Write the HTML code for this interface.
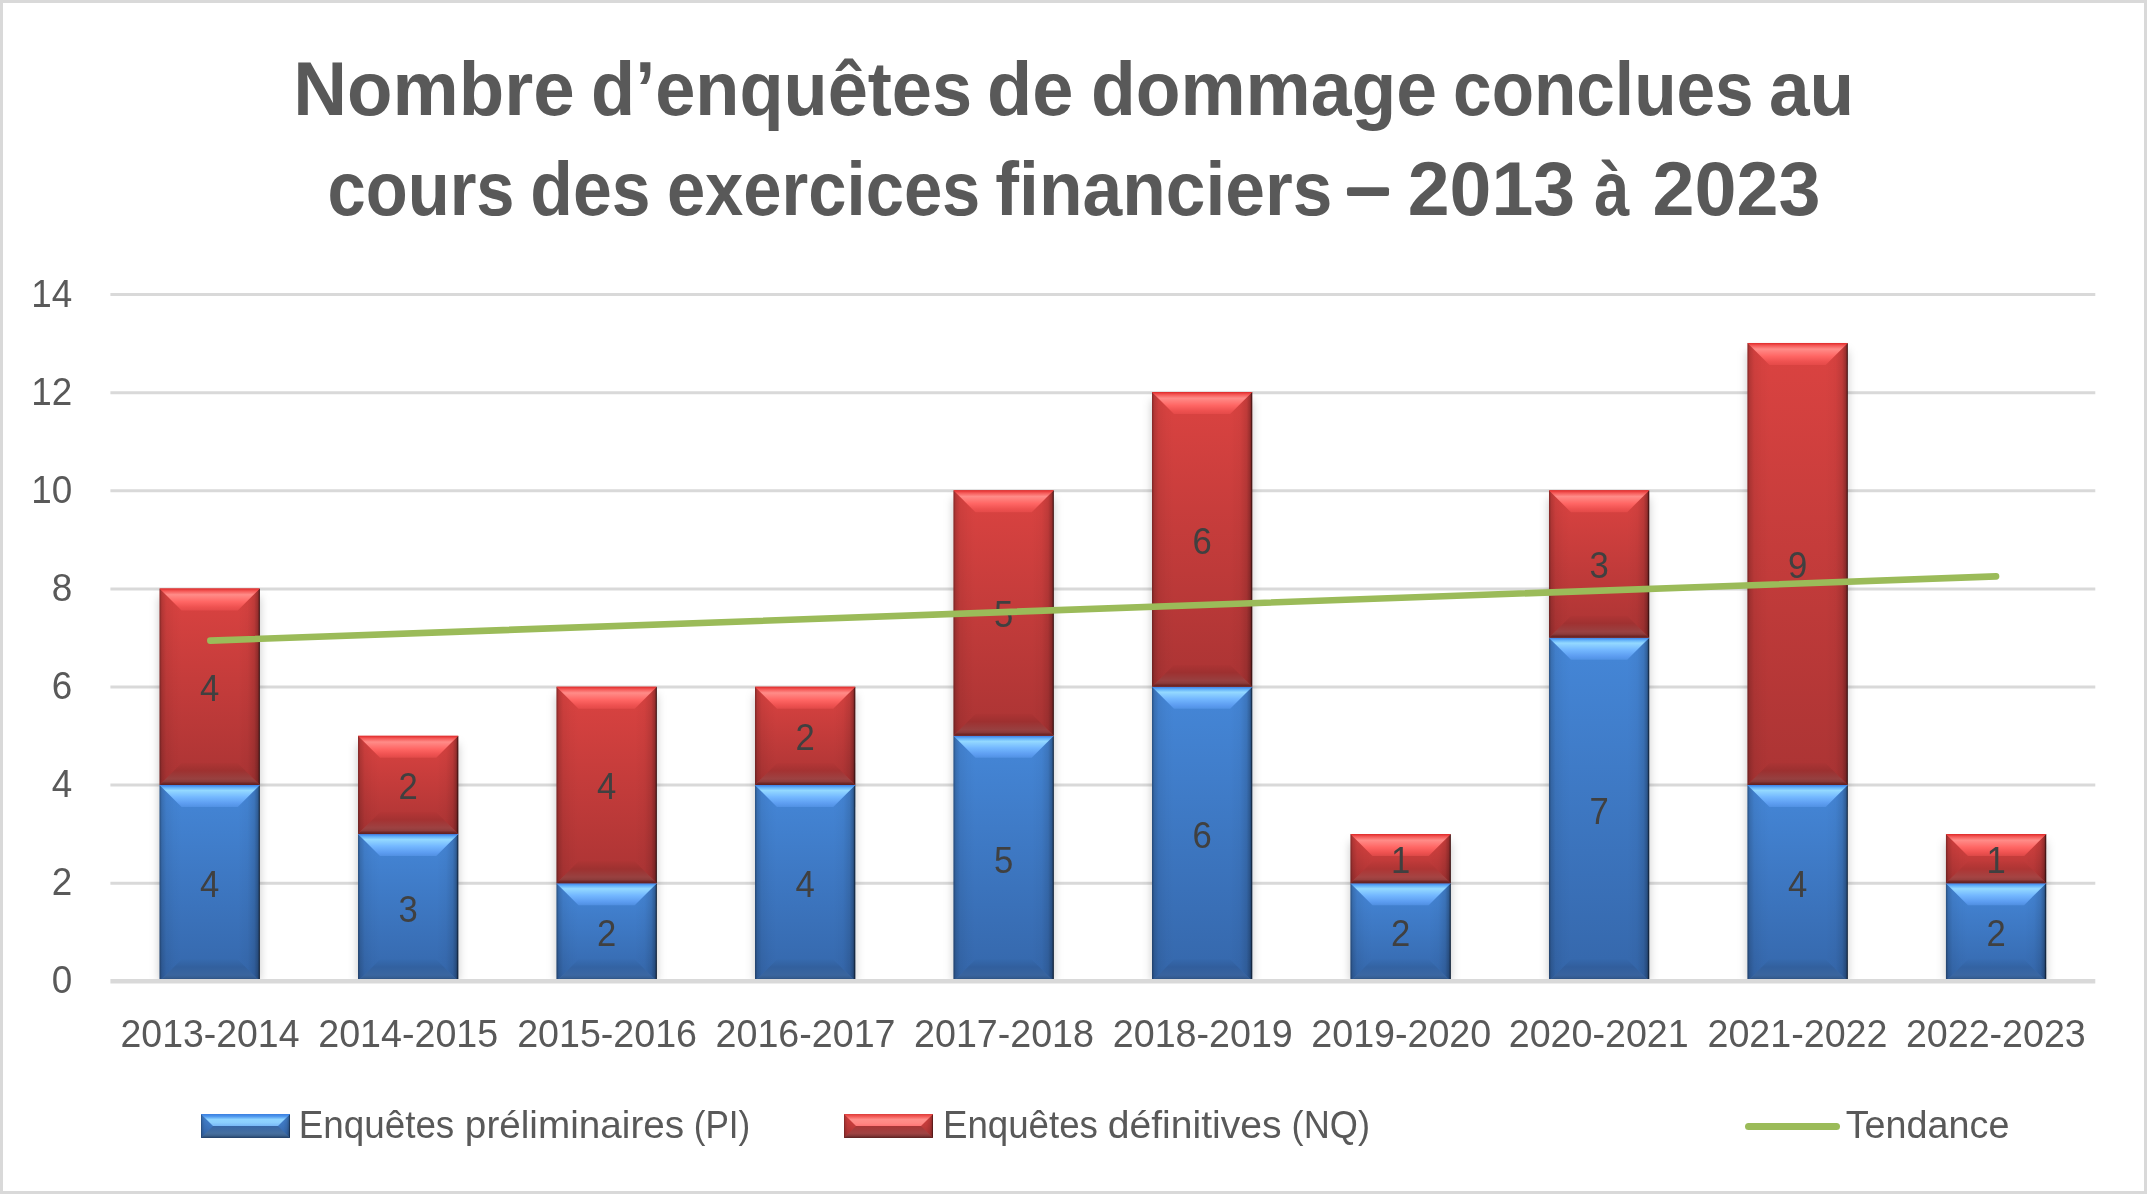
<!DOCTYPE html>
<html><head><meta charset="utf-8"><title>Chart</title>
<style>html,body{margin:0;padding:0;background:#fff;overflow:hidden;width:2147px;height:1194px;} svg{display:block;} text{opacity:0.999;}</style>
</head><body>
<svg width="2147" height="1194" viewBox="0 0 2147 1194">
<defs>
<linearGradient id="bFace" x1="0" y1="0" x2="0" y2="1">
 <stop offset="0" stop-color="#4587d8"/><stop offset="1" stop-color="#3567ab"/>
</linearGradient>
<linearGradient id="rFace" x1="0" y1="0" x2="0" y2="1">
 <stop offset="0" stop-color="#db4341"/><stop offset="1" stop-color="#ab3434"/>
</linearGradient>
<linearGradient id="bTop" x1="0" y1="0" x2="0" y2="1">
 <stop offset="0" stop-color="#3b7ee6"/><stop offset="0.12" stop-color="#64b2fa"/>
 <stop offset="0.25" stop-color="#94d9ff"/><stop offset="0.55" stop-color="#74b8ff"/>
 <stop offset="0.85" stop-color="#5c9cf0"/><stop offset="1" stop-color="#4a8ade"/>
</linearGradient>
<linearGradient id="rTop" x1="0" y1="0" x2="0" y2="1">
 <stop offset="0" stop-color="#df2a2a"/><stop offset="0.12" stop-color="#f55a58"/>
 <stop offset="0.28" stop-color="#ff8c88"/><stop offset="0.6" stop-color="#ff6664"/>
 <stop offset="0.85" stop-color="#ee5150"/><stop offset="1" stop-color="#de4645"/>
</linearGradient>
<linearGradient id="bBot" x1="0" y1="0" x2="0" y2="1">
 <stop offset="0" stop-color="#3567ab"/><stop offset="0.35" stop-color="#2f5e98"/>
 <stop offset="0.75" stop-color="#3f6898"/><stop offset="0.9" stop-color="#3a6090"/><stop offset="1" stop-color="#22426a"/>
</linearGradient>
<linearGradient id="rBot" x1="0" y1="0" x2="0" y2="1">
 <stop offset="0" stop-color="#ab3434"/><stop offset="0.35" stop-color="#962e2e"/>
 <stop offset="0.75" stop-color="#9a4343"/><stop offset="0.9" stop-color="#8a3838"/><stop offset="1" stop-color="#5e2020"/>
</linearGradient>
<linearGradient id="sideL" x1="0" y1="0" x2="1" y2="0">
 <stop offset="0" stop-color="#000" stop-opacity="0.40"/><stop offset="0.1" stop-color="#000" stop-opacity="0.17"/>
 <stop offset="0.3" stop-color="#000" stop-opacity="0.06"/><stop offset="0.65" stop-color="#000" stop-opacity="0.02"/><stop offset="1" stop-color="#000" stop-opacity="0"/>
</linearGradient>
<linearGradient id="sideR" x1="0" y1="0" x2="1" y2="0">
 <stop offset="0" stop-color="#000" stop-opacity="0"/><stop offset="0.45" stop-color="#000" stop-opacity="0.03"/>
 <stop offset="0.75" stop-color="#000" stop-opacity="0.12"/><stop offset="0.9" stop-color="#000" stop-opacity="0.28"/><stop offset="0.95" stop-color="#000" stop-opacity="0.45"/><stop offset="1" stop-color="#000" stop-opacity="0.92"/>
</linearGradient>
<clipPath id="plotclip"><rect x="0" y="0" width="2147" height="979"/></clipPath>
<linearGradient id="lbTop" x1="0" y1="0" x2="0" y2="1">
 <stop offset="0" stop-color="#3a7ede"/><stop offset="0.2" stop-color="#4f98ee"/><stop offset="0.45" stop-color="#8fd4ff"/>
 <stop offset="0.7" stop-color="#8ccffe"/><stop offset="1" stop-color="#78b8f6"/>
</linearGradient>
<linearGradient id="lbBot" x1="0" y1="0" x2="0" y2="1">
 <stop offset="0" stop-color="#3766a6"/><stop offset="0.6" stop-color="#466f9f"/><stop offset="0.78" stop-color="#3e6490"/><stop offset="1" stop-color="#223f66"/>
</linearGradient>
<linearGradient id="lrTop" x1="0" y1="0" x2="0" y2="1">
 <stop offset="0" stop-color="#dc3c3a"/><stop offset="0.2" stop-color="#f35a57"/><stop offset="0.45" stop-color="#ff8e8a"/>
 <stop offset="0.75" stop-color="#ff8884"/><stop offset="1" stop-color="#ff7676"/>
</linearGradient>
<linearGradient id="lrBot" x1="0" y1="0" x2="0" y2="1">
 <stop offset="0" stop-color="#a83636"/><stop offset="0.6" stop-color="#a04343"/><stop offset="0.78" stop-color="#8a3a3a"/><stop offset="1" stop-color="#5a2121"/>
</linearGradient>
<filter id="shd" x="-30%" y="-10%" width="160%" height="120%">
 <feGaussianBlur stdDeviation="5"/>
</filter>
<linearGradient id="t1" x1="0" y1="0" x2="0" y2="1"><stop offset="0" stop-color="#3b7ee6"/><stop offset="0.12" stop-color="#64b2fa"/><stop offset="0.25" stop-color="#94d9ff"/><stop offset="0.55" stop-color="#74b8ff"/><stop offset="0.85" stop-color="#5c9cf0"/><stop offset="1" stop-color="#5191e3"/></linearGradient><linearGradient id="u1" x1="0" y1="0" x2="0" y2="1"><stop offset="0" stop-color="#366aae"/><stop offset="0.35" stop-color="#32609e"/><stop offset="0.72" stop-color="#3a659e"/><stop offset="0.84" stop-color="#355d91"/><stop offset="0.92" stop-color="#2c4e7c"/><stop offset="1" stop-color="#22426a"/></linearGradient><linearGradient id="t2" x1="0" y1="0" x2="0" y2="1"><stop offset="0" stop-color="#df2a2a"/><stop offset="0.12" stop-color="#f55a58"/><stop offset="0.28" stop-color="#ff8c88"/><stop offset="0.6" stop-color="#ff6664"/><stop offset="0.85" stop-color="#ee5150"/><stop offset="1" stop-color="#e34a49"/></linearGradient><linearGradient id="u2" x1="0" y1="0" x2="0" y2="1"><stop offset="0" stop-color="#ae3534"/><stop offset="0.35" stop-color="#9e3130"/><stop offset="0.72" stop-color="#984140"/><stop offset="0.84" stop-color="#8c3c3b"/><stop offset="0.92" stop-color="#742828"/><stop offset="1" stop-color="#5e2020"/></linearGradient><linearGradient id="t3" x1="0" y1="0" x2="0" y2="1"><stop offset="0" stop-color="#3b7ee6"/><stop offset="0.12" stop-color="#64b2fa"/><stop offset="0.25" stop-color="#94d9ff"/><stop offset="0.55" stop-color="#74b8ff"/><stop offset="0.85" stop-color="#5c9cf0"/><stop offset="1" stop-color="#5190e2"/></linearGradient><linearGradient id="u3" x1="0" y1="0" x2="0" y2="1"><stop offset="0" stop-color="#366bb0"/><stop offset="0.35" stop-color="#3261a0"/><stop offset="0.72" stop-color="#3a66a0"/><stop offset="0.84" stop-color="#355e93"/><stop offset="0.92" stop-color="#2c4e7c"/><stop offset="1" stop-color="#22426a"/></linearGradient><linearGradient id="t4" x1="0" y1="0" x2="0" y2="1"><stop offset="0" stop-color="#df2a2a"/><stop offset="0.12" stop-color="#f55a58"/><stop offset="0.28" stop-color="#ff8c88"/><stop offset="0.6" stop-color="#ff6664"/><stop offset="0.85" stop-color="#ee5150"/><stop offset="1" stop-color="#e04948"/></linearGradient><linearGradient id="u4" x1="0" y1="0" x2="0" y2="1"><stop offset="0" stop-color="#b43636"/><stop offset="0.35" stop-color="#a43232"/><stop offset="0.72" stop-color="#9d4242"/><stop offset="0.84" stop-color="#903d3d"/><stop offset="0.92" stop-color="#742828"/><stop offset="1" stop-color="#5e2020"/></linearGradient><linearGradient id="t5" x1="0" y1="0" x2="0" y2="1"><stop offset="0" stop-color="#3b7ee6"/><stop offset="0.12" stop-color="#64b2fa"/><stop offset="0.25" stop-color="#94d9ff"/><stop offset="0.55" stop-color="#74b8ff"/><stop offset="0.85" stop-color="#5c9cf0"/><stop offset="1" stop-color="#508fe1"/></linearGradient><linearGradient id="u5" x1="0" y1="0" x2="0" y2="1"><stop offset="0" stop-color="#386db3"/><stop offset="0.35" stop-color="#3363a3"/><stop offset="0.72" stop-color="#3b67a2"/><stop offset="0.84" stop-color="#365f95"/><stop offset="0.92" stop-color="#2c4e7c"/><stop offset="1" stop-color="#22426a"/></linearGradient><linearGradient id="t6" x1="0" y1="0" x2="0" y2="1"><stop offset="0" stop-color="#df2a2a"/><stop offset="0.12" stop-color="#f55a58"/><stop offset="0.28" stop-color="#ff8c88"/><stop offset="0.6" stop-color="#ff6664"/><stop offset="0.85" stop-color="#ee5150"/><stop offset="1" stop-color="#e34a49"/></linearGradient><linearGradient id="u6" x1="0" y1="0" x2="0" y2="1"><stop offset="0" stop-color="#ae3534"/><stop offset="0.35" stop-color="#9e3130"/><stop offset="0.72" stop-color="#984140"/><stop offset="0.84" stop-color="#8c3c3b"/><stop offset="0.92" stop-color="#742828"/><stop offset="1" stop-color="#5e2020"/></linearGradient><linearGradient id="t7" x1="0" y1="0" x2="0" y2="1"><stop offset="0" stop-color="#3b7ee6"/><stop offset="0.12" stop-color="#64b2fa"/><stop offset="0.25" stop-color="#94d9ff"/><stop offset="0.55" stop-color="#74b8ff"/><stop offset="0.85" stop-color="#5c9cf0"/><stop offset="1" stop-color="#5191e3"/></linearGradient><linearGradient id="u7" x1="0" y1="0" x2="0" y2="1"><stop offset="0" stop-color="#366aae"/><stop offset="0.35" stop-color="#32609e"/><stop offset="0.72" stop-color="#3a659e"/><stop offset="0.84" stop-color="#355d91"/><stop offset="0.92" stop-color="#2c4e7c"/><stop offset="1" stop-color="#22426a"/></linearGradient><linearGradient id="t8" x1="0" y1="0" x2="0" y2="1"><stop offset="0" stop-color="#df2a2a"/><stop offset="0.12" stop-color="#f55a58"/><stop offset="0.28" stop-color="#ff8c88"/><stop offset="0.6" stop-color="#ff6664"/><stop offset="0.85" stop-color="#ee5150"/><stop offset="1" stop-color="#e04948"/></linearGradient><linearGradient id="u8" x1="0" y1="0" x2="0" y2="1"><stop offset="0" stop-color="#b43636"/><stop offset="0.35" stop-color="#a43232"/><stop offset="0.72" stop-color="#9d4242"/><stop offset="0.84" stop-color="#903d3d"/><stop offset="0.92" stop-color="#742828"/><stop offset="1" stop-color="#5e2020"/></linearGradient><linearGradient id="t9" x1="0" y1="0" x2="0" y2="1"><stop offset="0" stop-color="#3b7ee6"/><stop offset="0.12" stop-color="#64b2fa"/><stop offset="0.25" stop-color="#94d9ff"/><stop offset="0.55" stop-color="#74b8ff"/><stop offset="0.85" stop-color="#5c9cf0"/><stop offset="1" stop-color="#5191e3"/></linearGradient><linearGradient id="u9" x1="0" y1="0" x2="0" y2="1"><stop offset="0" stop-color="#3569ad"/><stop offset="0.35" stop-color="#315f9e"/><stop offset="0.72" stop-color="#39649e"/><stop offset="0.84" stop-color="#345c91"/><stop offset="0.92" stop-color="#2c4e7c"/><stop offset="1" stop-color="#22426a"/></linearGradient><linearGradient id="t10" x1="0" y1="0" x2="0" y2="1"><stop offset="0" stop-color="#df2a2a"/><stop offset="0.12" stop-color="#f55a58"/><stop offset="0.28" stop-color="#ff8c88"/><stop offset="0.6" stop-color="#ff6664"/><stop offset="0.85" stop-color="#ee5150"/><stop offset="1" stop-color="#e44a49"/></linearGradient><linearGradient id="u10" x1="0" y1="0" x2="0" y2="1"><stop offset="0" stop-color="#ad3434"/><stop offset="0.35" stop-color="#9e3030"/><stop offset="0.72" stop-color="#984040"/><stop offset="0.84" stop-color="#8c3b3b"/><stop offset="0.92" stop-color="#742828"/><stop offset="1" stop-color="#5e2020"/></linearGradient><linearGradient id="t11" x1="0" y1="0" x2="0" y2="1"><stop offset="0" stop-color="#3b7ee6"/><stop offset="0.12" stop-color="#64b2fa"/><stop offset="0.25" stop-color="#94d9ff"/><stop offset="0.55" stop-color="#74b8ff"/><stop offset="0.85" stop-color="#5c9cf0"/><stop offset="1" stop-color="#5192e4"/></linearGradient><linearGradient id="u11" x1="0" y1="0" x2="0" y2="1"><stop offset="0" stop-color="#3568ac"/><stop offset="0.35" stop-color="#315e9d"/><stop offset="0.72" stop-color="#39639e"/><stop offset="0.84" stop-color="#345b91"/><stop offset="0.92" stop-color="#2c4e7c"/><stop offset="1" stop-color="#22426a"/></linearGradient><linearGradient id="t12" x1="0" y1="0" x2="0" y2="1"><stop offset="0" stop-color="#df2a2a"/><stop offset="0.12" stop-color="#f55a58"/><stop offset="0.28" stop-color="#ff8c88"/><stop offset="0.6" stop-color="#ff6664"/><stop offset="0.85" stop-color="#ee5150"/><stop offset="1" stop-color="#e44a49"/></linearGradient><linearGradient id="u12" x1="0" y1="0" x2="0" y2="1"><stop offset="0" stop-color="#ad3434"/><stop offset="0.35" stop-color="#9e3030"/><stop offset="0.72" stop-color="#984040"/><stop offset="0.84" stop-color="#8c3b3b"/><stop offset="0.92" stop-color="#742828"/><stop offset="1" stop-color="#5e2020"/></linearGradient><linearGradient id="t13" x1="0" y1="0" x2="0" y2="1"><stop offset="0" stop-color="#3b7ee6"/><stop offset="0.12" stop-color="#64b2fa"/><stop offset="0.25" stop-color="#94d9ff"/><stop offset="0.55" stop-color="#74b8ff"/><stop offset="0.85" stop-color="#5c9cf0"/><stop offset="1" stop-color="#508fe1"/></linearGradient><linearGradient id="u13" x1="0" y1="0" x2="0" y2="1"><stop offset="0" stop-color="#386db3"/><stop offset="0.35" stop-color="#3363a3"/><stop offset="0.72" stop-color="#3b67a2"/><stop offset="0.84" stop-color="#365f95"/><stop offset="0.92" stop-color="#2c4e7c"/><stop offset="1" stop-color="#22426a"/></linearGradient><linearGradient id="t14" x1="0" y1="0" x2="0" y2="1"><stop offset="0" stop-color="#df2a2a"/><stop offset="0.12" stop-color="#f55a58"/><stop offset="0.28" stop-color="#ff8c88"/><stop offset="0.6" stop-color="#ff6664"/><stop offset="0.85" stop-color="#ee5150"/><stop offset="1" stop-color="#dc4847"/></linearGradient><linearGradient id="u14" x1="0" y1="0" x2="0" y2="1"><stop offset="0" stop-color="#bf3a39"/><stop offset="0.35" stop-color="#ae3534"/><stop offset="0.72" stop-color="#a54443"/><stop offset="0.84" stop-color="#983f3e"/><stop offset="0.92" stop-color="#742828"/><stop offset="1" stop-color="#5e2020"/></linearGradient><linearGradient id="t15" x1="0" y1="0" x2="0" y2="1"><stop offset="0" stop-color="#3b7ee6"/><stop offset="0.12" stop-color="#64b2fa"/><stop offset="0.25" stop-color="#94d9ff"/><stop offset="0.55" stop-color="#74b8ff"/><stop offset="0.85" stop-color="#5c9cf0"/><stop offset="1" stop-color="#5192e4"/></linearGradient><linearGradient id="u15" x1="0" y1="0" x2="0" y2="1"><stop offset="0" stop-color="#3568ac"/><stop offset="0.35" stop-color="#315e9d"/><stop offset="0.72" stop-color="#39639e"/><stop offset="0.84" stop-color="#345b91"/><stop offset="0.92" stop-color="#2c4e7c"/><stop offset="1" stop-color="#22426a"/></linearGradient><linearGradient id="t16" x1="0" y1="0" x2="0" y2="1"><stop offset="0" stop-color="#df2a2a"/><stop offset="0.12" stop-color="#f55a58"/><stop offset="0.28" stop-color="#ff8c88"/><stop offset="0.6" stop-color="#ff6664"/><stop offset="0.85" stop-color="#ee5150"/><stop offset="1" stop-color="#e24a48"/></linearGradient><linearGradient id="u16" x1="0" y1="0" x2="0" y2="1"><stop offset="0" stop-color="#b03535"/><stop offset="0.35" stop-color="#a03131"/><stop offset="0.72" stop-color="#9a4141"/><stop offset="0.84" stop-color="#8e3c3c"/><stop offset="0.92" stop-color="#742828"/><stop offset="1" stop-color="#5e2020"/></linearGradient><linearGradient id="t17" x1="0" y1="0" x2="0" y2="1"><stop offset="0" stop-color="#3b7ee6"/><stop offset="0.12" stop-color="#64b2fa"/><stop offset="0.25" stop-color="#94d9ff"/><stop offset="0.55" stop-color="#74b8ff"/><stop offset="0.85" stop-color="#5c9cf0"/><stop offset="1" stop-color="#5191e3"/></linearGradient><linearGradient id="u17" x1="0" y1="0" x2="0" y2="1"><stop offset="0" stop-color="#366aae"/><stop offset="0.35" stop-color="#32609e"/><stop offset="0.72" stop-color="#3a659e"/><stop offset="0.84" stop-color="#355d91"/><stop offset="0.92" stop-color="#2c4e7c"/><stop offset="1" stop-color="#22426a"/></linearGradient><linearGradient id="t18" x1="0" y1="0" x2="0" y2="1"><stop offset="0" stop-color="#df2a2a"/><stop offset="0.12" stop-color="#f55a58"/><stop offset="0.28" stop-color="#ff8c88"/><stop offset="0.6" stop-color="#ff6664"/><stop offset="0.85" stop-color="#ee5150"/><stop offset="1" stop-color="#e54a49"/></linearGradient><linearGradient id="u18" x1="0" y1="0" x2="0" y2="1"><stop offset="0" stop-color="#ab3434"/><stop offset="0.35" stop-color="#9c3030"/><stop offset="0.72" stop-color="#964040"/><stop offset="0.84" stop-color="#8a3b3b"/><stop offset="0.92" stop-color="#742828"/><stop offset="1" stop-color="#5e2020"/></linearGradient><linearGradient id="t19" x1="0" y1="0" x2="0" y2="1"><stop offset="0" stop-color="#3b7ee6"/><stop offset="0.12" stop-color="#64b2fa"/><stop offset="0.25" stop-color="#94d9ff"/><stop offset="0.55" stop-color="#74b8ff"/><stop offset="0.85" stop-color="#5c9cf0"/><stop offset="1" stop-color="#508fe1"/></linearGradient><linearGradient id="u19" x1="0" y1="0" x2="0" y2="1"><stop offset="0" stop-color="#386db3"/><stop offset="0.35" stop-color="#3363a3"/><stop offset="0.72" stop-color="#3b67a2"/><stop offset="0.84" stop-color="#365f95"/><stop offset="0.92" stop-color="#2c4e7c"/><stop offset="1" stop-color="#22426a"/></linearGradient><linearGradient id="t20" x1="0" y1="0" x2="0" y2="1"><stop offset="0" stop-color="#df2a2a"/><stop offset="0.12" stop-color="#f55a58"/><stop offset="0.28" stop-color="#ff8c88"/><stop offset="0.6" stop-color="#ff6664"/><stop offset="0.85" stop-color="#ee5150"/><stop offset="1" stop-color="#dc4847"/></linearGradient><linearGradient id="u20" x1="0" y1="0" x2="0" y2="1"><stop offset="0" stop-color="#bf3a39"/><stop offset="0.35" stop-color="#ae3534"/><stop offset="0.72" stop-color="#a54443"/><stop offset="0.84" stop-color="#983f3e"/><stop offset="0.92" stop-color="#742828"/><stop offset="1" stop-color="#5e2020"/></linearGradient></defs>
<rect x="0" y="0" width="2147" height="1194" fill="#ffffff"/>
<rect x="1.5" y="1.5" width="2144" height="1191" fill="none" stroke="#d9d9d9" stroke-width="3"/>
<text x="293.33" y="114.5" font-family='"Liberation Sans", sans-serif' font-weight="bold" font-size="76.5" fill="#595959" textLength="281.43" lengthAdjust="spacingAndGlyphs">Nombre</text>
<text x="591.07" y="114.5" font-family='"Liberation Sans", sans-serif' font-weight="bold" font-size="76.5" fill="#595959" textLength="381.11" lengthAdjust="spacingAndGlyphs">d’enquêtes</text>
<text x="987.1" y="114.5" font-family='"Liberation Sans", sans-serif' font-weight="bold" font-size="76.5" fill="#595959" textLength="86.31" lengthAdjust="spacingAndGlyphs">de</text>
<text x="1090.93" y="114.5" font-family='"Liberation Sans", sans-serif' font-weight="bold" font-size="76.5" fill="#595959" textLength="346.1" lengthAdjust="spacingAndGlyphs">dommage</text>
<text x="1453.08" y="114.5" font-family='"Liberation Sans", sans-serif' font-weight="bold" font-size="76.5" fill="#595959" textLength="300.5" lengthAdjust="spacingAndGlyphs">conclues</text>
<text x="1768.89" y="114.5" font-family='"Liberation Sans", sans-serif' font-weight="bold" font-size="76.5" fill="#595959" textLength="85.14" lengthAdjust="spacingAndGlyphs">au</text>
<text x="327.51" y="214.5" font-family='"Liberation Sans", sans-serif' font-weight="bold" font-size="76.5" fill="#595959" textLength="187.08" lengthAdjust="spacingAndGlyphs">cours</text>
<text x="530.37" y="214.5" font-family='"Liberation Sans", sans-serif' font-weight="bold" font-size="76.5" fill="#595959" textLength="120.11" lengthAdjust="spacingAndGlyphs">des</text>
<text x="666.9" y="214.5" font-family='"Liberation Sans", sans-serif' font-weight="bold" font-size="76.5" fill="#595959" textLength="313.46" lengthAdjust="spacingAndGlyphs">exercices</text>
<text x="995.37" y="214.5" font-family='"Liberation Sans", sans-serif' font-weight="bold" font-size="76.5" fill="#595959" textLength="337.11" lengthAdjust="spacingAndGlyphs">financiers</text>
<rect x="1347" y="187.2" width="42" height="8.9" rx="2" fill="#595959"/>
<text x="1407.75" y="214.5" font-family='"Liberation Sans", sans-serif' font-weight="bold" font-size="76.5" fill="#595959" textLength="167.39" lengthAdjust="spacingAndGlyphs">2013</text>
<text x="1594.25" y="214.5" font-family='"Liberation Sans", sans-serif' font-weight="bold" font-size="76.5" fill="#595959" textLength="35.08" lengthAdjust="spacingAndGlyphs">à</text>
<text x="1652.54" y="214.5" font-family='"Liberation Sans", sans-serif' font-weight="bold" font-size="76.5" fill="#595959" textLength="168.01" lengthAdjust="spacingAndGlyphs">2023</text>
<line x1="110.4" y1="883.20" x2="2095.3" y2="883.20" stroke="#d9d9d9" stroke-width="3"/>
<line x1="110.4" y1="785.10" x2="2095.3" y2="785.10" stroke="#d9d9d9" stroke-width="3"/>
<line x1="110.4" y1="687.00" x2="2095.3" y2="687.00" stroke="#d9d9d9" stroke-width="3"/>
<line x1="110.4" y1="588.90" x2="2095.3" y2="588.90" stroke="#d9d9d9" stroke-width="3"/>
<line x1="110.4" y1="490.80" x2="2095.3" y2="490.80" stroke="#d9d9d9" stroke-width="3"/>
<line x1="110.4" y1="392.70" x2="2095.3" y2="392.70" stroke="#d9d9d9" stroke-width="3"/>
<line x1="110.4" y1="294.60" x2="2095.3" y2="294.60" stroke="#d9d9d9" stroke-width="3"/>
<text x="72.3" y="993.20" text-anchor="end" font-family='"Liberation Sans", sans-serif' font-size="38.4" fill="#595959" textLength="20.50" lengthAdjust="spacingAndGlyphs">0</text>
<text x="72.3" y="895.10" text-anchor="end" font-family='"Liberation Sans", sans-serif' font-size="38.4" fill="#595959" textLength="20.50" lengthAdjust="spacingAndGlyphs">2</text>
<text x="72.3" y="797.00" text-anchor="end" font-family='"Liberation Sans", sans-serif' font-size="38.4" fill="#595959" textLength="20.50" lengthAdjust="spacingAndGlyphs">4</text>
<text x="72.3" y="698.90" text-anchor="end" font-family='"Liberation Sans", sans-serif' font-size="38.4" fill="#595959" textLength="20.50" lengthAdjust="spacingAndGlyphs">6</text>
<text x="72.3" y="600.80" text-anchor="end" font-family='"Liberation Sans", sans-serif' font-size="38.4" fill="#595959" textLength="20.50" lengthAdjust="spacingAndGlyphs">8</text>
<text x="72.3" y="502.70" text-anchor="end" font-family='"Liberation Sans", sans-serif' font-size="38.4" fill="#595959" textLength="40.99" lengthAdjust="spacingAndGlyphs">10</text>
<text x="72.3" y="404.60" text-anchor="end" font-family='"Liberation Sans", sans-serif' font-size="38.4" fill="#595959" textLength="40.99" lengthAdjust="spacingAndGlyphs">12</text>
<text x="72.3" y="306.50" text-anchor="end" font-family='"Liberation Sans", sans-serif' font-size="38.4" fill="#595959" textLength="40.99" lengthAdjust="spacingAndGlyphs">14</text>
<g clip-path="url(#plotclip)">
<rect x="159.55" y="596.52" width="100.2" height="384.78" fill="#000" fill-opacity="0.22" filter="url(#shd)"/>
<rect x="358.03" y="743.85" width="100.2" height="237.45" fill="#000" fill-opacity="0.22" filter="url(#shd)"/>
<rect x="556.52" y="694.74" width="100.2" height="286.56" fill="#000" fill-opacity="0.22" filter="url(#shd)"/>
<rect x="755.01" y="694.74" width="100.2" height="286.56" fill="#000" fill-opacity="0.22" filter="url(#shd)"/>
<rect x="953.50" y="498.30" width="100.2" height="483.00" fill="#000" fill-opacity="0.22" filter="url(#shd)"/>
<rect x="1152.00" y="400.08" width="100.2" height="581.22" fill="#000" fill-opacity="0.22" filter="url(#shd)"/>
<rect x="1350.49" y="842.07" width="100.2" height="139.23" fill="#000" fill-opacity="0.22" filter="url(#shd)"/>
<rect x="1548.98" y="498.30" width="100.2" height="483.00" fill="#000" fill-opacity="0.22" filter="url(#shd)"/>
<rect x="1747.47" y="350.97" width="100.2" height="630.33" fill="#000" fill-opacity="0.22" filter="url(#shd)"/>
<rect x="1945.96" y="842.07" width="100.2" height="139.23" fill="#000" fill-opacity="0.22" filter="url(#shd)"/>
</g>
<rect x="159.55" y="784.96" width="100.20" height="196.34" fill="url(#bFace)"/><polygon points="159.55,784.96 181.55,806.96 181.55,959.30 159.55,981.30" fill="url(#sideL)"/><polygon points="259.75,784.96 237.75,806.96 237.75,959.30 259.75,981.30" fill="url(#sideR)"/><polygon points="159.55,784.96 259.75,784.96 237.75,806.96 181.55,806.96" fill="url(#t1)"/><polygon points="159.55,981.30 181.55,959.30 237.75,959.30 259.75,981.30" fill="url(#u1)"/>
<rect x="159.55" y="588.52" width="100.20" height="196.44" fill="url(#rFace)"/><polygon points="159.55,588.52 181.55,610.52 181.55,762.96 159.55,784.96" fill="url(#sideL)"/><polygon points="259.75,588.52 237.75,610.52 237.75,762.96 259.75,784.96" fill="url(#sideR)"/><polygon points="159.55,588.52 259.75,588.52 237.75,610.52 181.55,610.52" fill="url(#t2)"/><polygon points="159.55,784.96 181.55,762.96 237.75,762.96 259.75,784.96" fill="url(#u2)"/>
<rect x="358.03" y="834.07" width="100.20" height="147.23" fill="url(#bFace)"/><polygon points="358.03,834.07 380.03,856.07 380.03,959.30 358.03,981.30" fill="url(#sideL)"/><polygon points="458.24,834.07 436.24,856.07 436.24,959.30 458.24,981.30" fill="url(#sideR)"/><polygon points="358.03,834.07 458.24,834.07 436.24,856.07 380.03,856.07" fill="url(#t3)"/><polygon points="358.03,981.30 380.03,959.30 436.24,959.30 458.24,981.30" fill="url(#u3)"/>
<rect x="358.03" y="735.85" width="100.20" height="98.22" fill="url(#rFace)"/><polygon points="358.03,735.85 380.03,757.85 380.03,812.07 358.03,834.07" fill="url(#sideL)"/><polygon points="458.24,735.85 436.24,757.85 436.24,812.07 458.24,834.07" fill="url(#sideR)"/><polygon points="358.03,735.85 458.24,735.85 436.24,757.85 380.03,757.85" fill="url(#t4)"/><polygon points="358.03,834.07 380.03,812.07 436.24,812.07 458.24,834.07" fill="url(#u4)"/>
<rect x="556.52" y="883.18" width="100.20" height="98.12" fill="url(#bFace)"/><polygon points="556.52,883.18 578.52,905.18 578.52,959.30 556.52,981.30" fill="url(#sideL)"/><polygon points="656.73,883.18 634.73,905.18 634.73,959.30 656.73,981.30" fill="url(#sideR)"/><polygon points="556.52,883.18 656.73,883.18 634.73,905.18 578.52,905.18" fill="url(#t5)"/><polygon points="556.52,981.30 578.52,959.30 634.73,959.30 656.73,981.30" fill="url(#u5)"/>
<rect x="556.52" y="686.74" width="100.20" height="196.44" fill="url(#rFace)"/><polygon points="556.52,686.74 578.52,708.74 578.52,861.18 556.52,883.18" fill="url(#sideL)"/><polygon points="656.73,686.74 634.73,708.74 634.73,861.18 656.73,883.18" fill="url(#sideR)"/><polygon points="556.52,686.74 656.73,686.74 634.73,708.74 578.52,708.74" fill="url(#t6)"/><polygon points="556.52,883.18 578.52,861.18 634.73,861.18 656.73,883.18" fill="url(#u6)"/>
<rect x="755.01" y="784.96" width="100.20" height="196.34" fill="url(#bFace)"/><polygon points="755.01,784.96 777.01,806.96 777.01,959.30 755.01,981.30" fill="url(#sideL)"/><polygon points="855.22,784.96 833.22,806.96 833.22,959.30 855.22,981.30" fill="url(#sideR)"/><polygon points="755.01,784.96 855.22,784.96 833.22,806.96 777.01,806.96" fill="url(#t7)"/><polygon points="755.01,981.30 777.01,959.30 833.22,959.30 855.22,981.30" fill="url(#u7)"/>
<rect x="755.01" y="686.74" width="100.20" height="98.22" fill="url(#rFace)"/><polygon points="755.01,686.74 777.01,708.74 777.01,762.96 755.01,784.96" fill="url(#sideL)"/><polygon points="855.22,686.74 833.22,708.74 833.22,762.96 855.22,784.96" fill="url(#sideR)"/><polygon points="755.01,686.74 855.22,686.74 833.22,708.74 777.01,708.74" fill="url(#t8)"/><polygon points="755.01,784.96 777.01,762.96 833.22,762.96 855.22,784.96" fill="url(#u8)"/>
<rect x="953.50" y="735.85" width="100.20" height="245.45" fill="url(#bFace)"/><polygon points="953.50,735.85 975.50,757.85 975.50,959.30 953.50,981.30" fill="url(#sideL)"/><polygon points="1053.70,735.85 1031.70,757.85 1031.70,959.30 1053.70,981.30" fill="url(#sideR)"/><polygon points="953.50,735.85 1053.70,735.85 1031.70,757.85 975.50,757.85" fill="url(#t9)"/><polygon points="953.50,981.30 975.50,959.30 1031.70,959.30 1053.70,981.30" fill="url(#u9)"/>
<rect x="953.50" y="490.30" width="100.20" height="245.55" fill="url(#rFace)"/><polygon points="953.50,490.30 975.50,512.30 975.50,713.85 953.50,735.85" fill="url(#sideL)"/><polygon points="1053.70,490.30 1031.70,512.30 1031.70,713.85 1053.70,735.85" fill="url(#sideR)"/><polygon points="953.50,490.30 1053.70,490.30 1031.70,512.30 975.50,512.30" fill="url(#t10)"/><polygon points="953.50,735.85 975.50,713.85 1031.70,713.85 1053.70,735.85" fill="url(#u10)"/>
<rect x="1152.00" y="686.74" width="100.20" height="294.56" fill="url(#bFace)"/><polygon points="1152.00,686.74 1174.00,708.74 1174.00,959.30 1152.00,981.30" fill="url(#sideL)"/><polygon points="1252.20,686.74 1230.20,708.74 1230.20,959.30 1252.20,981.30" fill="url(#sideR)"/><polygon points="1152.00,686.74 1252.20,686.74 1230.20,708.74 1174.00,708.74" fill="url(#t11)"/><polygon points="1152.00,981.30 1174.00,959.30 1230.20,959.30 1252.20,981.30" fill="url(#u11)"/>
<rect x="1152.00" y="392.08" width="100.20" height="294.66" fill="url(#rFace)"/><polygon points="1152.00,392.08 1174.00,414.08 1174.00,664.74 1152.00,686.74" fill="url(#sideL)"/><polygon points="1252.20,392.08 1230.20,414.08 1230.20,664.74 1252.20,686.74" fill="url(#sideR)"/><polygon points="1152.00,392.08 1252.20,392.08 1230.20,414.08 1174.00,414.08" fill="url(#t12)"/><polygon points="1152.00,686.74 1174.00,664.74 1230.20,664.74 1252.20,686.74" fill="url(#u12)"/>
<rect x="1350.49" y="883.18" width="100.20" height="98.12" fill="url(#bFace)"/><polygon points="1350.49,883.18 1372.49,905.18 1372.49,959.30 1350.49,981.30" fill="url(#sideL)"/><polygon points="1450.68,883.18 1428.68,905.18 1428.68,959.30 1450.68,981.30" fill="url(#sideR)"/><polygon points="1350.49,883.18 1450.68,883.18 1428.68,905.18 1372.49,905.18" fill="url(#t13)"/><polygon points="1350.49,981.30 1372.49,959.30 1428.68,959.30 1450.68,981.30" fill="url(#u13)"/>
<rect x="1350.49" y="834.07" width="100.20" height="49.11" fill="url(#rFace)"/><polygon points="1350.49,834.07 1372.49,856.07 1372.49,861.18 1350.49,883.18" fill="url(#sideL)"/><polygon points="1450.68,834.07 1428.68,856.07 1428.68,861.18 1450.68,883.18" fill="url(#sideR)"/><polygon points="1350.49,834.07 1450.68,834.07 1428.68,856.07 1372.49,856.07" fill="url(#t14)"/><polygon points="1350.49,883.18 1372.49,861.18 1428.68,861.18 1450.68,883.18" fill="url(#u14)"/>
<rect x="1548.98" y="637.63" width="100.20" height="343.67" fill="url(#bFace)"/><polygon points="1548.98,637.63 1570.98,659.63 1570.98,959.30 1548.98,981.30" fill="url(#sideL)"/><polygon points="1649.18,637.63 1627.18,659.63 1627.18,959.30 1649.18,981.30" fill="url(#sideR)"/><polygon points="1548.98,637.63 1649.18,637.63 1627.18,659.63 1570.98,659.63" fill="url(#t15)"/><polygon points="1548.98,981.30 1570.98,959.30 1627.18,959.30 1649.18,981.30" fill="url(#u15)"/>
<rect x="1548.98" y="490.30" width="100.20" height="147.33" fill="url(#rFace)"/><polygon points="1548.98,490.30 1570.98,512.30 1570.98,615.63 1548.98,637.63" fill="url(#sideL)"/><polygon points="1649.18,490.30 1627.18,512.30 1627.18,615.63 1649.18,637.63" fill="url(#sideR)"/><polygon points="1548.98,490.30 1649.18,490.30 1627.18,512.30 1570.98,512.30" fill="url(#t16)"/><polygon points="1548.98,637.63 1570.98,615.63 1627.18,615.63 1649.18,637.63" fill="url(#u16)"/>
<rect x="1747.47" y="784.96" width="100.20" height="196.34" fill="url(#bFace)"/><polygon points="1747.47,784.96 1769.47,806.96 1769.47,959.30 1747.47,981.30" fill="url(#sideL)"/><polygon points="1847.66,784.96 1825.66,806.96 1825.66,959.30 1847.66,981.30" fill="url(#sideR)"/><polygon points="1747.47,784.96 1847.66,784.96 1825.66,806.96 1769.47,806.96" fill="url(#t17)"/><polygon points="1747.47,981.30 1769.47,959.30 1825.66,959.30 1847.66,981.30" fill="url(#u17)"/>
<rect x="1747.47" y="342.97" width="100.20" height="441.99" fill="url(#rFace)"/><polygon points="1747.47,342.97 1769.47,364.97 1769.47,762.96 1747.47,784.96" fill="url(#sideL)"/><polygon points="1847.66,342.97 1825.66,364.97 1825.66,762.96 1847.66,784.96" fill="url(#sideR)"/><polygon points="1747.47,342.97 1847.66,342.97 1825.66,364.97 1769.47,364.97" fill="url(#t18)"/><polygon points="1747.47,784.96 1769.47,762.96 1825.66,762.96 1847.66,784.96" fill="url(#u18)"/>
<rect x="1945.96" y="883.18" width="100.20" height="98.12" fill="url(#bFace)"/><polygon points="1945.96,883.18 1967.96,905.18 1967.96,959.30 1945.96,981.30" fill="url(#sideL)"/><polygon points="2046.16,883.18 2024.16,905.18 2024.16,959.30 2046.16,981.30" fill="url(#sideR)"/><polygon points="1945.96,883.18 2046.16,883.18 2024.16,905.18 1967.96,905.18" fill="url(#t19)"/><polygon points="1945.96,981.30 1967.96,959.30 2024.16,959.30 2046.16,981.30" fill="url(#u19)"/>
<rect x="1945.96" y="834.07" width="100.20" height="49.11" fill="url(#rFace)"/><polygon points="1945.96,834.07 1967.96,856.07 1967.96,861.18 1945.96,883.18" fill="url(#sideL)"/><polygon points="2046.16,834.07 2024.16,856.07 2024.16,861.18 2046.16,883.18" fill="url(#sideR)"/><polygon points="1945.96,834.07 2046.16,834.07 2024.16,856.07 1967.96,856.07" fill="url(#t20)"/><polygon points="1945.96,883.18 1967.96,861.18 2024.16,861.18 2046.16,883.18" fill="url(#u20)"/>
<line x1="110.4" y1="981.3" x2="2095.3" y2="981.3" stroke="#d9d9d9" stroke-width="4.5"/>
<text x="209.65" y="897.20" text-anchor="middle" font-family='"Liberation Sans", sans-serif' font-size="37.3" fill="#404040" textLength="19.3" lengthAdjust="spacingAndGlyphs">4</text>
<text x="209.65" y="701.00" text-anchor="middle" font-family='"Liberation Sans", sans-serif' font-size="37.3" fill="#404040" textLength="19.3" lengthAdjust="spacingAndGlyphs">4</text>
<text x="408.13" y="921.72" text-anchor="middle" font-family='"Liberation Sans", sans-serif' font-size="37.3" fill="#404040" textLength="19.3" lengthAdjust="spacingAndGlyphs">3</text>
<text x="408.13" y="799.10" text-anchor="middle" font-family='"Liberation Sans", sans-serif' font-size="37.3" fill="#404040" textLength="19.3" lengthAdjust="spacingAndGlyphs">2</text>
<text x="606.62" y="946.25" text-anchor="middle" font-family='"Liberation Sans", sans-serif' font-size="37.3" fill="#404040" textLength="19.3" lengthAdjust="spacingAndGlyphs">2</text>
<text x="606.62" y="799.10" text-anchor="middle" font-family='"Liberation Sans", sans-serif' font-size="37.3" fill="#404040" textLength="19.3" lengthAdjust="spacingAndGlyphs">4</text>
<text x="805.12" y="897.20" text-anchor="middle" font-family='"Liberation Sans", sans-serif' font-size="37.3" fill="#404040" textLength="19.3" lengthAdjust="spacingAndGlyphs">4</text>
<text x="805.12" y="750.05" text-anchor="middle" font-family='"Liberation Sans", sans-serif' font-size="37.3" fill="#404040" textLength="19.3" lengthAdjust="spacingAndGlyphs">2</text>
<text x="1003.61" y="872.67" text-anchor="middle" font-family='"Liberation Sans", sans-serif' font-size="37.3" fill="#404040" textLength="19.3" lengthAdjust="spacingAndGlyphs">5</text>
<text x="1003.61" y="627.42" text-anchor="middle" font-family='"Liberation Sans", sans-serif' font-size="37.3" fill="#404040" textLength="19.3" lengthAdjust="spacingAndGlyphs">5</text>
<text x="1202.10" y="848.15" text-anchor="middle" font-family='"Liberation Sans", sans-serif' font-size="37.3" fill="#404040" textLength="19.3" lengthAdjust="spacingAndGlyphs">6</text>
<text x="1202.10" y="553.85" text-anchor="middle" font-family='"Liberation Sans", sans-serif' font-size="37.3" fill="#404040" textLength="19.3" lengthAdjust="spacingAndGlyphs">6</text>
<text x="1400.59" y="946.25" text-anchor="middle" font-family='"Liberation Sans", sans-serif' font-size="37.3" fill="#404040" textLength="19.3" lengthAdjust="spacingAndGlyphs">2</text>
<text x="1400.59" y="872.67" text-anchor="middle" font-family='"Liberation Sans", sans-serif' font-size="37.3" fill="#404040" textLength="19.3" lengthAdjust="spacingAndGlyphs">1</text>
<text x="1599.08" y="823.62" text-anchor="middle" font-family='"Liberation Sans", sans-serif' font-size="37.3" fill="#404040" textLength="19.3" lengthAdjust="spacingAndGlyphs">7</text>
<text x="1599.08" y="578.38" text-anchor="middle" font-family='"Liberation Sans", sans-serif' font-size="37.3" fill="#404040" textLength="19.3" lengthAdjust="spacingAndGlyphs">3</text>
<text x="1797.57" y="897.20" text-anchor="middle" font-family='"Liberation Sans", sans-serif' font-size="37.3" fill="#404040" textLength="19.3" lengthAdjust="spacingAndGlyphs">4</text>
<text x="1797.57" y="578.38" text-anchor="middle" font-family='"Liberation Sans", sans-serif' font-size="37.3" fill="#404040" textLength="19.3" lengthAdjust="spacingAndGlyphs">9</text>
<text x="1996.06" y="946.25" text-anchor="middle" font-family='"Liberation Sans", sans-serif' font-size="37.3" fill="#404040" textLength="19.3" lengthAdjust="spacingAndGlyphs">2</text>
<text x="1996.06" y="872.67" text-anchor="middle" font-family='"Liberation Sans", sans-serif' font-size="37.3" fill="#404040" textLength="19.3" lengthAdjust="spacingAndGlyphs">1</text>
<line x1="210.34" y1="640.63" x2="1996.06" y2="576.41" stroke="#9bbb59" stroke-width="6.6" stroke-linecap="round"/>
<text x="120.55" y="1046.5" font-family='"Liberation Sans", sans-serif' font-size="38.4" fill="#595959" textLength="178.93" lengthAdjust="spacingAndGlyphs">2013-2014</text>
<text x="318.24" y="1046.5" font-family='"Liberation Sans", sans-serif' font-size="38.4" fill="#595959" textLength="179.92" lengthAdjust="spacingAndGlyphs">2014-2015</text>
<text x="517.14" y="1046.5" font-family='"Liberation Sans", sans-serif' font-size="38.4" fill="#595959" textLength="179.92" lengthAdjust="spacingAndGlyphs">2015-2016</text>
<text x="715.59" y="1046.5" font-family='"Liberation Sans", sans-serif' font-size="38.4" fill="#595959" textLength="179.92" lengthAdjust="spacingAndGlyphs">2016-2017</text>
<text x="914.04" y="1046.5" font-family='"Liberation Sans", sans-serif' font-size="38.4" fill="#595959" textLength="179.92" lengthAdjust="spacingAndGlyphs">2017-2018</text>
<text x="1112.84" y="1046.5" font-family='"Liberation Sans", sans-serif' font-size="38.4" fill="#595959" textLength="179.92" lengthAdjust="spacingAndGlyphs">2018-2019</text>
<text x="1311.29" y="1046.5" font-family='"Liberation Sans", sans-serif' font-size="38.4" fill="#595959" textLength="179.92" lengthAdjust="spacingAndGlyphs">2019-2020</text>
<text x="1508.74" y="1046.5" font-family='"Liberation Sans", sans-serif' font-size="38.4" fill="#595959" textLength="179.92" lengthAdjust="spacingAndGlyphs">2020-2021</text>
<text x="1707.49" y="1046.5" font-family='"Liberation Sans", sans-serif' font-size="38.4" fill="#595959" textLength="179.92" lengthAdjust="spacingAndGlyphs">2021-2022</text>
<text x="1905.89" y="1046.5" font-family='"Liberation Sans", sans-serif' font-size="38.4" fill="#595959" textLength="179.92" lengthAdjust="spacingAndGlyphs">2022-2023</text>
<rect x="201.00" y="1114.00" width="89.00" height="24.00" fill="url(#bFace)"/><polygon points="201.00,1114.00 213.00,1126.00 213.00,1126.00 201.00,1138.00" fill="url(#sideL)"/><polygon points="290.00,1114.00 278.00,1126.00 278.00,1126.00 290.00,1138.00" fill="url(#sideR)"/><polygon points="201.00,1114.00 290.00,1114.00 278.00,1126.00 213.00,1126.00" fill="url(#lbTop)"/><polygon points="201.00,1138.00 213.00,1126.00 278.00,1126.00 290.00,1138.00" fill="url(#lbBot)"/>
<text x="298.72" y="1138" font-family='"Liberation Sans", sans-serif' font-size="38.4" fill="#595959" textLength="155.56" lengthAdjust="spacingAndGlyphs">Enquêtes</text>
<text x="464.88" y="1138" font-family='"Liberation Sans", sans-serif' font-size="38.4" fill="#595959" textLength="219.26" lengthAdjust="spacingAndGlyphs">préliminaires</text>
<text x="693.77" y="1138" font-family='"Liberation Sans", sans-serif' font-size="38.4" fill="#595959" textLength="56.53" lengthAdjust="spacingAndGlyphs">(PI)</text>
<rect x="844.00" y="1114.00" width="89.00" height="24.00" fill="url(#rFace)"/><polygon points="844.00,1114.00 856.00,1126.00 856.00,1126.00 844.00,1138.00" fill="url(#sideL)"/><polygon points="933.00,1114.00 921.00,1126.00 921.00,1126.00 933.00,1138.00" fill="url(#sideR)"/><polygon points="844.00,1114.00 933.00,1114.00 921.00,1126.00 856.00,1126.00" fill="url(#lrTop)"/><polygon points="844.00,1138.00 856.00,1126.00 921.00,1126.00 933.00,1138.00" fill="url(#lrBot)"/>
<text x="942.93" y="1138" font-family='"Liberation Sans", sans-serif' font-size="38.4" fill="#595959" textLength="155.05" lengthAdjust="spacingAndGlyphs">Enquêtes</text>
<text x="1107.66" y="1138" font-family='"Liberation Sans", sans-serif' font-size="38.4" fill="#595959" textLength="173.89" lengthAdjust="spacingAndGlyphs">définitives</text>
<text x="1291.62" y="1138" font-family='"Liberation Sans", sans-serif' font-size="38.4" fill="#595959" textLength="78.31" lengthAdjust="spacingAndGlyphs">(NQ)</text>
<line x1="1748.5" y1="1126.6" x2="1836.5" y2="1126.6" stroke="#9bbb59" stroke-width="7" stroke-linecap="round"/>
<text x="1845.72" y="1138" font-family='"Liberation Sans", sans-serif' font-size="38.4" fill="#595959" textLength="163.76" lengthAdjust="spacingAndGlyphs">Tendance</text>
</svg>
</body></html>
